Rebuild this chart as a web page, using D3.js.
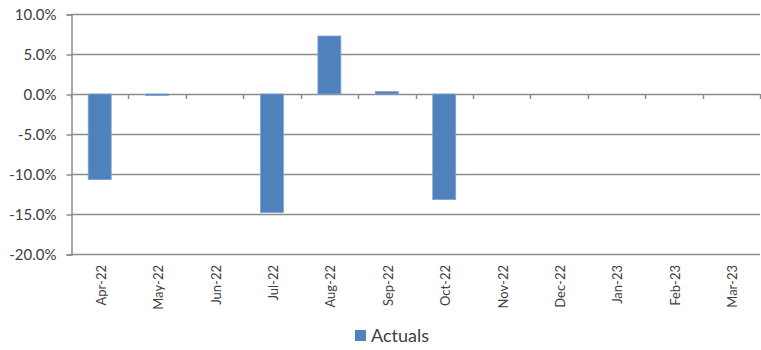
<!DOCTYPE html>
<html>
<head>
<meta charset="utf-8">
<script src="https://cdn.jsdelivr.net/npm/d3@7"></script>
<style>
  body { margin: 0; background: #fff; }
  text { font-family: Lato, "Open Sans", sans-serif; fill: #404040; }
</style>
</head>
<body>
<div id="chart"></div>
<script>
// data
var months = ["Apr-22", "May-22", "Jun-22", "Jul-22", "Aug-22", "Sep-22",
              "Oct-22", "Nov-22", "Dec-22", "Jan-23", "Feb-23", "Mar-23"];
var actuals = [-10.7, -0.2, 0, -14.8, 7.25, 0.3, -13.2, 0, 0, 0, 0, 0];
var yTicks = [10, 5, 0, -5, -10, -15, -20];
var seriesName = "Actuals";

var svgWidth = 761;
var svgHeight = 350;
var margin = { top: 14, bottom: 96, right: 1, left: 71 };
var width = svgWidth - margin.left - margin.right;
var height = svgHeight - margin.top - margin.bottom;

var svg = d3.select("#chart")
  .append("svg")
  .attr("width", svgWidth)
  .attr("height", svgHeight);

var chartGroup = svg.append("g")
  .attr("transform", `translate(${margin.left}, ${margin.top})`);

var xScale = d3.scaleBand()
  .domain(months)
  .range([0, width])
  .paddingInner(0.6)
  .paddingOuter(0.3);

var xEdges = d3.scaleLinear()
  .domain([0, months.length])
  .range([0, width]);

var yScale = d3.scaleLinear()
  .domain([-20, 10])
  .range([height, 0]);

// gridlines
chartGroup.selectAll(".grid")
  .data(yTicks)
  .enter()
  .append("line")
  .attr("x1", 0)
  .attr("x2", width)
  .attr("y1", d => Math.round(yScale(d)) + 0.5)
  .attr("y2", d => Math.round(yScale(d)) + 0.5)
  .attr("stroke", "#8c8c8c")
  .attr("stroke-width", 1.5);

// y axis
var leftAxis = d3.axisLeft(yScale)
  .tickValues(yTicks)
  .tickSize(5)
  .tickPadding(10)
  .tickFormat(d => d.toFixed(1) + "%");

var yAxis = chartGroup.append("g")
  .attr("transform", "translate(0.5, 0.5)")
  .call(leftAxis);
yAxis.select(".domain").attr("stroke", "#8c8c8c").attr("stroke-width", 1.5);
yAxis.selectAll(".tick line").attr("stroke", "#8c8c8c").attr("stroke-width", 1.5);
yAxis.selectAll(".tick text")
  .style("font-size", "15px")
  .attr("fill", "#404040");

// bars
chartGroup.selectAll(".bar")
  .data(actuals)
  .enter()
  .append("rect")
  .attr("x", (d, i) => xScale(months[i]))
  .attr("width", xScale.bandwidth())
  .attr("y", d => yScale(Math.max(0, d)))
  .attr("height", d => Math.abs(yScale(d) - yScale(0)))
  .attr("fill", "#4f81bd")
  .attr("stroke", "#7fa3d1")
  .attr("stroke-width", 0.8);

// category ticks on the zero line
chartGroup.selectAll(".xtick")
  .data(d3.range(months.length + 1))
  .enter()
  .append("line")
  .attr("x1", d => Math.round(xEdges(d)) + 0.5)
  .attr("x2", d => Math.round(xEdges(d)) + 0.5)
  .attr("y1", yScale(0))
  .attr("y2", yScale(0) + 5)
  .attr("stroke", "#8c8c8c")
  .attr("stroke-width", 1.5);

// x labels, rotated, below the plot
chartGroup.selectAll(".xlabel")
  .data(months)
  .enter()
  .append("text")
  .attr("transform", d => `translate(${xScale(d) + xScale.bandwidth() / 2 + 6}, ${height + 11}) rotate(-90)`)
  .attr("text-anchor", "end")
  .style("font-size", "13px")
  .text(d => d);

// legend
var legend = svg.append("g")
  .attr("transform", "translate(355, 330)");
legend.append("rect")
  .attr("width", 11)
  .attr("height", 11)
  .attr("fill", "#4f81bd");
legend.append("text")
  .attr("x", 16)
  .attr("y", 12)
  .style("font-size", "18px")
  .attr("fill", "#222")
  .text(seriesName);
</script>
</body>
</html>
